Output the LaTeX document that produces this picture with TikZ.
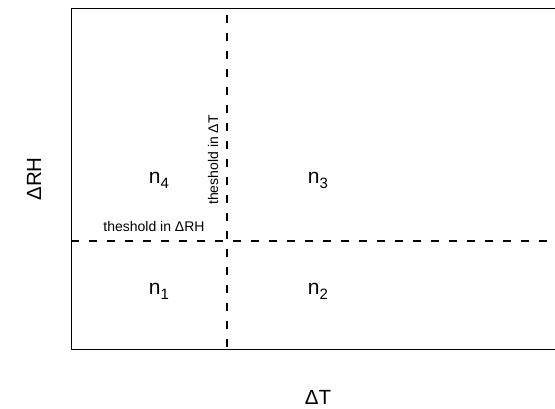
\documentclass[tikz,border=0pt]{standalone}
\usepackage{fontspec}
\setmainfont{Liberation Sans}
\usetikzlibrary{positioning}

\newcommand{\cellsub}[1]{\raisebox{-0.45ex}{\fontsize{15}{15}\selectfont #1}}

\begin{document}
\begin{tikzpicture}[
    x=1pt, y=-1pt,
    frame/.style={line width=1pt},
    thresh/.style={line width=2pt, dash pattern=on 8pt off 10pt},
    cell/.style={font=\fontsize{21}{21}\selectfont, inner sep=0pt},
    axislabel/.style={font=\fontsize{20.5}{20.5}\selectfont, inner sep=0pt},
    note/.style={font=\fontsize{14}{14}\selectfont, inner sep=0pt}
  ]
    \useasboundingbox (0,0) rectangle (555,408);

    % open frame
    \coordinate (tr) at (555,8);
    \coordinate (tl) at (71,8);
    \coordinate (bl) at (71,349);
    \coordinate (br) at (555,349);
    \draw[frame] (tr) -- (tl) -- (bl) -- (br);

    % thresholds
    \coordinate (vtop) at (227,15);
    \coordinate (vbot) at (227,349);
    \coordinate (hleft) at (71,241);
    \coordinate (hright) at (555,241);
    \draw[thresh] (vtop) -- (vbot);
    \draw[thresh] (hleft) -- (hright);

    % cells
    \node[cell] (n4) at (159,180) {n\cellsub{4}};
    \node[cell] (n3) at (318,180) {n\cellsub{3}};
    \node[cell] (n1) at (159,291) {n\cellsub{1}};
    \node[cell] (n2) at (318,291) {n\cellsub{2}};

    % threshold labels
    \node[note] (rhnote) at (154,226) {theshold in ΔRH};
    \node[note, rotate=90] (tnote) at (213,160) {theshold in ΔT};

    % axis labels
    \node[axislabel] (xlab) at (318,397) {ΔT};
    \node[axislabel, rotate=90] (ylab) at (34,179) {ΔRH};
\end{tikzpicture}
\end{document}
